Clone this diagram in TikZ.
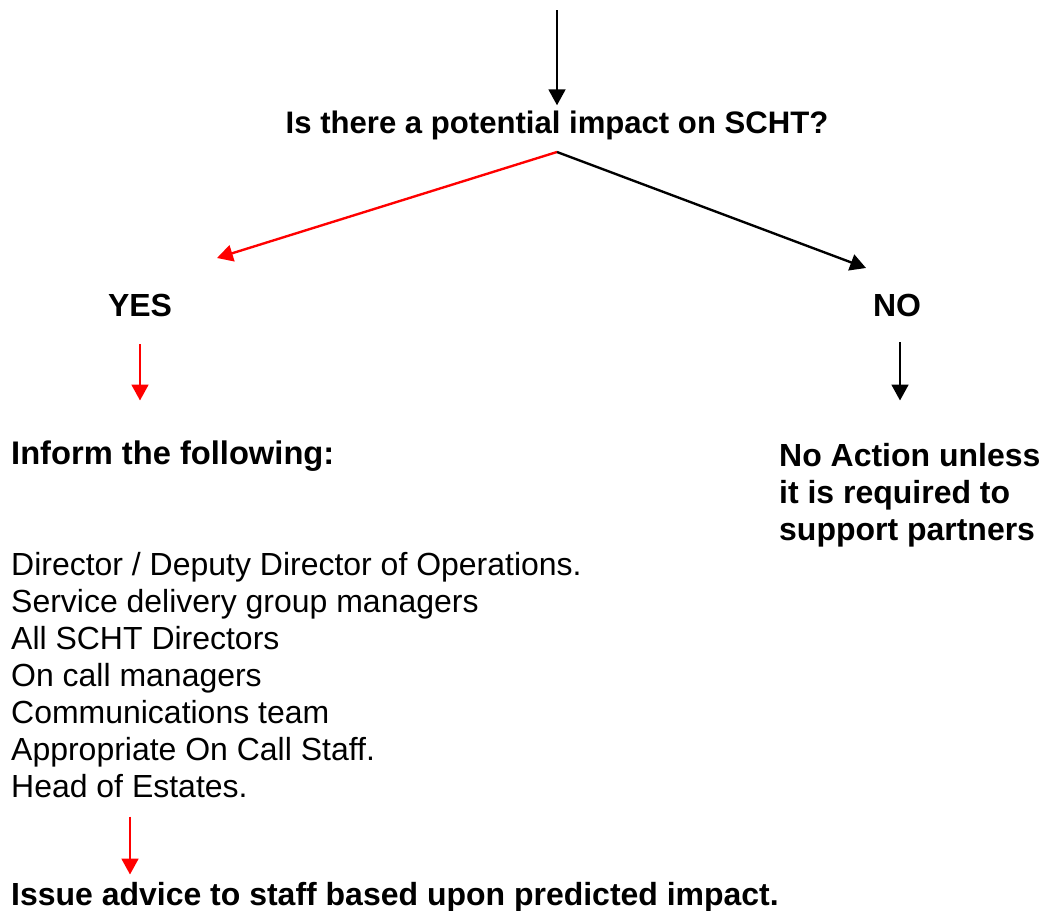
\documentclass[tikz,border=0pt]{standalone}
\usepackage{fontspec}
\setmainfont{Liberation Sans}
\usetikzlibrary{arrows.meta}

\begin{document}
\begin{tikzpicture}[x=0.02cm,y=-0.02cm,>={Triangle[length=9pt,width=9.5pt]},
  line width=1.35pt,
  txt/.style={inner sep=0pt,font=\fontsize{18.2}{21.05}\selectfont},
  bold/.style={inner sep=0pt,font=\fontsize{18.2}{21.05}\selectfont\bfseries}]
\useasboundingbox (0,0) rectangle (1043,911);

\node[bold,anchor=base,font=\fontsize{17.7}{21.05}\selectfont\bfseries] (q) at (557,134)
  {Is there a potential impact on SCHT?};
\node[bold,anchor=base] (yes) at (140,317) {YES};
\node[bold,anchor=base] (no) at (897,317) {NO};
\node[bold,anchor=base west,font=\fontsize{18.6}{21.05}\selectfont\bfseries] (inform) at (10,464)
  {Inform the following:};
% base of a multi-line node sits on its last line
\node[bold,anchor=base west,align=left] (noact) at (778,540)
  {No Action unless\\it is required to\\support partners};
\node[txt,anchor=base west,align=left] (list) at (10,797)
  {Director / Deputy Director of Operations.\\Service delivery group managers\\All SCHT Directors\\On call managers\\Communications team\\Appropriate On Call Staff.\\Head of Estates.};
\node[bold,anchor=base west] (issue) at (10,905)
  {Issue advice to staff based upon predicted impact.};

\coordinate (fork) at (557,152);
\coordinate (yestip) at (217,258);
\coordinate (notip) at (866,268);

\draw[black,->] (q.north) ++(0,-100) -- ++(0,95);
\draw[red,->] (fork) -- (yestip);
\draw[black,->] (fork) -- (notip);
\draw[red,->] (yes.south) ++(0,26) -- ++(0,56);
\draw[black,->] (no.south) ++(3,24) -- ++(0,58);
%\draw[red,->] (inform.south) -- (list.north);
\draw[red,->] (list.south west) ++(120,18) -- ++(0,58);
\end{tikzpicture}
\end{document}
